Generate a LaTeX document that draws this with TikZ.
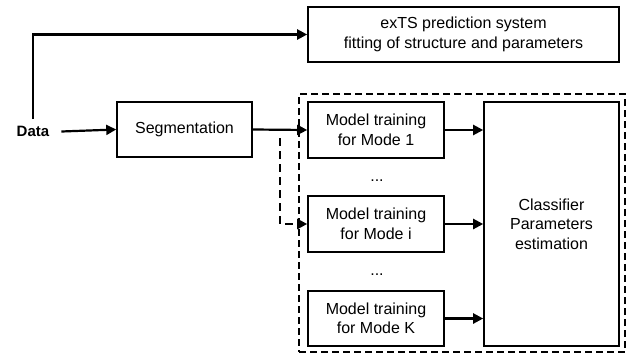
\documentclass[tikz,border=0pt]{standalone}
\usepackage{fontspec}
\setmainfont{Liberation Sans}
\usetikzlibrary{arrows.meta,calc}
\begin{document}
\begin{tikzpicture}[x=1pt,y=-1pt,
  box/.style={draw,line width=1.6pt,align=center,inner sep=0pt,font=\fontsize{16}{19.5}\selectfont},
  arr/.style={line width=2.2pt,-{Triangle[length=10pt,width=10pt]}},
  lbl/.style={inner sep=0pt,font=\fontsize{16}{19.5}\selectfont}]
\useasboundingbox (0,0) rectangle (636,361);
\node[box,minimum width=311pt,minimum height=55pt] (top) at (463.5,34.5) {exTS prediction system\\fitting of structure and parameters};
\node[box,minimum width=135pt,minimum height=55pt] (seg) at (184.5,129.5) {Segmentation};
\node[box,minimum width=136pt,minimum height=56pt] (m1) at (376,130) {Model training\\for Mode 1};
\node[box,minimum width=136pt,minimum height=56pt] (mi) at (376,224) {Model training\\for Mode i};
\node[box,minimum width=136pt,minimum height=55pt] (mK) at (376,318.5) {Model training\\for Mode K};
\node[box,minimum width=135pt,minimum height=244pt] (cls) at (551.5,224) {Classifier\\Parameters\\estimation};
\node[draw,line width=1.6pt,dash pattern=on 7pt off 4pt,minimum width=326pt,minimum height=258pt,inner sep=0pt] (outer) at (462,223) {};
\node[lbl,font=\fontsize{15}{18}\selectfont\bfseries] (data) at (33,131.5) {Data};
\node[lbl] (d1) at (377,181) {...};
\node[lbl] (d2) at (377,275) {...};
\coordinate (br) at (280,130);
\draw[arr] ([yshift=7pt]data.north) |- (top.west);
\draw[arr] ([xshift=12pt]data.east) -- (seg.west);
\draw[arr] (seg.east) -- (m1.west);
\draw[arr,line width=2.6pt,dash pattern=on 8pt off 5pt] ([yshift=-8pt]br) |- (mi.west);
\draw[arr] (m1.east) -- (m1.east -| cls.west);
\draw[arr] (mi.east) -- (mi.east -| cls.west);
\draw[arr] (mK.east) -- (mK.east -| cls.west);
\end{tikzpicture}
\end{document}
